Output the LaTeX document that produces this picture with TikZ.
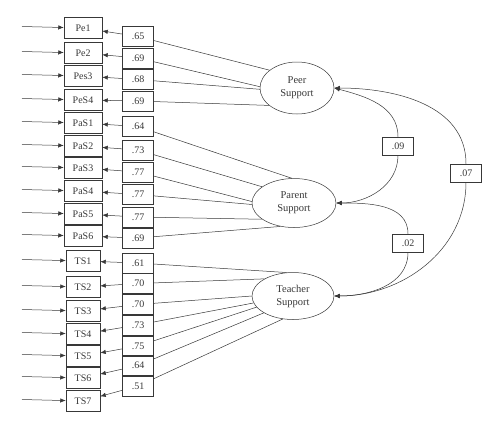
\documentclass[tikz,border=0pt]{standalone}
\usepackage{fontspec}
\setmainfont{Liberation Serif}
\usetikzlibrary{shapes.geometric,arrows.meta}
\begin{document}
\begin{tikzpicture}[x=1pt,y=1pt,color=black!78,line width=0.5pt,
    >={Latex[length=5.5pt,width=4.4pt]},
    item/.style={draw,rectangle,minimum height=21pt,inner sep=1pt,font=\fontsize{10}{12}\selectfont},
    loading/.style={draw,rectangle,minimum width=31pt,minimum height=20pt,inner sep=1pt,font=\fontsize{10}{12}\selectfont},
    corr/.style={draw,rectangle,minimum width=31pt,minimum height=18pt,inner sep=1pt,font=\fontsize{10}{12}\selectfont},
    latent/.style={draw,ellipse,align=center,inner sep=0pt,font=\fontsize{10.5}{13}\selectfont}]
      \useasboundingbox (0,0) rectangle (500,-429);
      % indicators
      \foreach \i/\y/\t/\w in{1/28/Pe1/38, 2/53/Pe2/38, 3/76/Pes3/38, 4/100/PeS4/38, 5/123/PaS1/38, 6/146/PaS2/38, 7/168/PaS3/38, 8/191/PaS4/38, 9/214/PaS5/38, 10/236/PaS6/38, 11/261/TS1/34, 12/287/TS2/34, 13/311/TS3/34, 14/334/TS4/34, 15/356/TS5/34, 16/378/TS6/34, 17/401/TS7/34}{
        \node[item,minimum width=\w pt](I\i) at (83,-\y) {\t};
        \coordinate(E\i) at (22,-\y+1.5);
        \draw[->](E\i) -- (I\i);
      }
      % loadings
      \foreach \i/\y/\v in{1/36.5/.65, 2/58/.69, 3/79.5/.68, 4/101/.69, 5/126.5/.64, 6/150/.73, 7/172/.77, 8/194.5/.77, 9/217/.77, 10/238/.69, 11/263/.61, 12/283.5/.70, 13/304.5/.70, 14/325/.73, 15/346/.75, 16/365.5/.64, 17/386/.51}{
        \node[loading](L\i) at (138,-\y) {\v};
        \draw[->](L\i) -- (I\i);
      }
      % factors
      \node[latent,minimum width=74pt,minimum height=52pt](Peer) at (297,-88) {Peer\\Support};
      \node[latent,minimum width=84pt,minimum height=49pt](Parent) at (294,-203) {Parent\\Support};
      \node[latent,minimum width=82pt,minimum height=47pt](Teacher) at (293,-296) {Teacher\\Support};
      \foreach \i/\l/\a in{1/Peer/147, 2/Peer/178, 3/Peer/182, 4/Peer/212, 5/Parent/95, 6/Parent/153, 7/Parent/178, 8/Parent/182, 9/Parent/207, 10/Parent/240, 11/Teacher/105, 12/Teacher/149, 13/Teacher/180, 14/Teacher/190, 15/Teacher/197, 16/Teacher/210, 17/Teacher/246}{
        \draw(\l.\a) -- (L\i);
      }
      % correlations
      \node[corr](C1) at (398,-146) {.09};
      \node[corr](C2) at (466,-173) {.07};
      \node[corr](C3) at (408,-243) {.02};
      \draw[<-](Peer.east) to[out=-15,in=90] (C1.north);
      \draw[->](C1.south) to[out=-90,in=0] (Parent.east);
      \draw[<-](Peer.east) to[out=0,in=90] (C2.north);
      \draw[->](C2.south) to[out=-90,in=0] (Teacher.east);
      \draw[<-](Parent.east) to[out=0,in=90] (C3.north);
      \draw[->](C3.south) to[out=-90,in=0] (Teacher.east);
    \end{tikzpicture}
\end{document}
